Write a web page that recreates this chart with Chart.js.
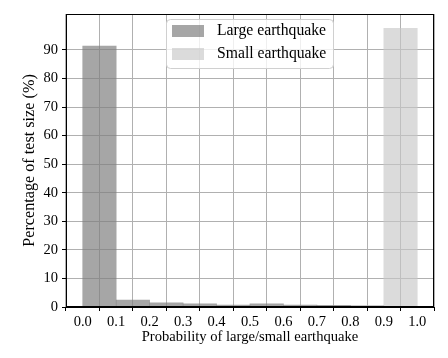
<!DOCTYPE html>
<html><head><meta charset="utf-8">
<script src="https://cdn.jsdelivr.net/npm/chart.js@4.4.1/dist/chart.umd.min.js"></script>
<style>html,body{margin:0;padding:0;background:#fff}#wrap{width:448px;height:358px}</style>
</head><body><div id="wrap"><canvas id="c" width="448" height="358"></canvas></div>
<script>
const binCenters = [0.05,0.15,0.25,0.35,0.45,0.55,0.65,0.75,0.85,0.95];
const largeValues = [91.4,2.4,1.5,1.1,0.7,1.1,0.7,0.6,0.3,0.0];
const smallValues = [0.2,0.1,0.1,0.1,0.2,0.2,0.3,0.4,0.6,97.6];
const xTicks = [0,0.1,0.2,0.3,0.4,0.5,0.6,0.7,0.8,0.9,1.0];
const yTicks = [0,10,20,30,40,50,60,70,80,90];
const seriesNames = ['Large earthquake','Small earthquake'];
const FONT = '"Liberation Serif","Times New Roman",serif';

const legendPlugin = {
  id:'boxLegend',
  afterDraw(chart){
    const ctx = chart.ctx;
    const x0=166,y0=19,w=167,h=49;
    ctx.save();
    ctx.fillStyle='rgba(255,255,255,0.8)';
    ctx.strokeStyle='#d0d0d0';ctx.lineWidth=1;
    ctx.beginPath();ctx.roundRect(x0+0.5,y0+0.5,w,h,4);ctx.fill();ctx.stroke();
    ctx.font='15.7px '+FONT;ctx.textBaseline='middle';
    chart.data.datasets.forEach((ds,i)=>{
      const yy=y0+12+i*23;
      ctx.fillStyle=ds.backgroundColor;ctx.fillRect(x0+6,yy-6,32,12);
      ctx.fillStyle='#000';ctx.fillText(ds.label,x0+51,yy);
    });
    ctx.restore();
  }
};
const framePlugin = {
  id:'frame',
  afterDatasetsDraw(chart){
    const a=chart.chartArea,ctx=chart.ctx;
    ctx.save();ctx.strokeStyle='#000';ctx.lineWidth=1;
    ctx.strokeRect(Math.round(a.left)+0.5,Math.round(a.top)+0.5,Math.round(a.right-a.left)-1,Math.round(a.bottom-a.top)-1);
    ctx.restore();
  }
};

new Chart(document.getElementById('c'),{
  type:'bar',
  data:{datasets:[
    {label:seriesNames[0],data:binCenters.map((x,i)=>({x,y:largeValues[i]})),backgroundColor:'rgba(128,128,128,0.7)',grouped:false,barPercentage:1,categoryPercentage:1,borderWidth:0},
    {label:seriesNames[1],data:binCenters.map((x,i)=>({x,y:smallValues[i]})),backgroundColor:'rgba(200,200,200,0.65)',grouped:false,barPercentage:1,categoryPercentage:1,borderWidth:0}
  ]},
  options:{
    responsive:false,animation:false,
    layout:{padding:{top:14,right:14,left:0,bottom:0}},
    plugins:{legend:{display:false},tooltip:{enabled:false}},
    scales:{
      x:{type:'linear',min:-0.05,max:1.05,offset:false,
        afterBuildTicks(s){s.ticks=xTicks.map(v=>({value:v}));},
        afterFit(s){s.height=51;},
        ticks:{color:'#000',font:{family:FONT,size:14.5},padding:2,maxRotation:0,callback:v=>v.toFixed(1)},
        grid:{color:'#b0b0b0',lineWidth:1,tickLength:4,tickColor:'#000',drawOnChartArea:true},
        border:{color:'#000'},
        title:{display:true,text:'Probability of large/small earthquake',color:'#000',font:{family:FONT,size:14.6},padding:{top:0,bottom:12}}
      },
      y:{min:0,max:102.6,
        afterBuildTicks(s){s.ticks=yTicks.map(v=>({value:v}));},
        afterFit(s){s.width=66;},
        ticks:{color:'#000',font:{family:FONT,size:14.5},padding:4},
        grid:{color:'#b0b0b0',lineWidth:1,tickLength:4,tickColor:'#000'},
        border:{color:'#000'},
        title:{display:true,text:'Percentage of test size (%)',color:'#000',font:{family:FONT,size:16.2},padding:{top:20,bottom:0}}
      }
    }
  },
  plugins:[framePlugin,legendPlugin]
});
</script></body></html>
